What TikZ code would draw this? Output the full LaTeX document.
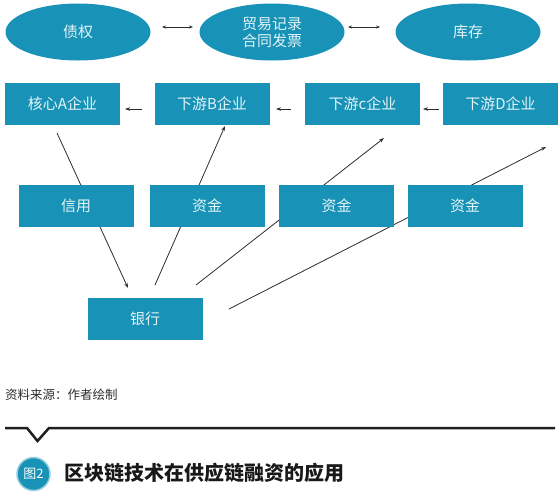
\documentclass[tikz,border=0pt]{standalone}
\usepackage{fontspec}
\setmainfont{Noto Sans CJK SC}
\usetikzlibrary{arrows.meta,shapes.geometric}
\definecolor{teal1}{RGB}{24,146,182}
\definecolor{txt}{RGB}{226,244,248}
\definecolor{ln}{RGB}{45,45,45}
\pgfdeclarelayer{bg}
\pgfsetlayers{bg,main}
\begin{document}
\begin{tikzpicture}[x=1pt,y=-1pt,
  ell/.style={ellipse,fill=teal1,text=txt,minimum width=145pt,minimum height=57pt,inner sep=0pt,font=\fontsize{15pt}{17pt}\selectfont,align=center},
  box/.style={rectangle,fill=teal1,text=txt,minimum width=115pt,minimum height=42pt,inner sep=0pt,font=\fontsize{15pt}{17pt}\selectfont},
  con/.style={draw=ln,line width=0.8pt,-{Stealth[length=5pt,width=3.5pt]}},
  dbl/.style={draw=ln,line width=0.8pt,{Stealth[length=4pt,width=3pt]}-{Stealth[length=4pt,width=3pt]}}]
\useasboundingbox (0,0) rectangle (560,493);
% ellipses
\node[ell] (zq) at (78,32) {债权};
\node[ell] (my) at (272,32) {贸易记录\\合同发票};
\node[ell] (kc) at (468,32) {库存};
\coordinate (d1a) at (162,27); \coordinate (d1b) at (193,27);
\coordinate (d2a) at (348,27); \coordinate (d2b) at (380,27);
\draw[dbl] (d1a) -- (d1b);
\draw[dbl] (d2a) -- (d2b);
% row 2
\node[box] (A) at (62.5,104) {核心A企业};
\node[box] (B) at (212,104) {下游B企业};
\node[box] (C) at (362.5,104) {下游c企业};
\node[box] (D) at (500.5,104) {下游D企业};
\coordinate (l1a) at (142,109); \coordinate (l1b) at (125,109);
\coordinate (l2a) at (291,109); \coordinate (l2b) at (276,109);
\coordinate (l3a) at (439,109); \coordinate (l3b) at (423,109);
\draw[con] (l1a) -- (l1b);
\draw[con] (l2a) -- (l2b);
\draw[con] (l3a) -- (l3b);
% row 3
\node[box] (xy) at (76,206) {信用};
\node[box] (zj1) at (207,206) {资金};
\node[box] (zj2) at (336.5,206) {资金};
\node[box] (zj3) at (465,206) {资金};
\node[box] (yh) at (145,319) {银行};
% long connectors (behind boxes)
\coordinate (s1) at (57,133); \coordinate (e1) at (128,288);
\coordinate (s2) at (155,285); \coordinate (e2) at (225,126);
\coordinate (s3) at (196,285); \coordinate (e3) at (384,138);
\coordinate (s4) at (229,309); \coordinate (e4) at (546,147);
\begin{pgfonlayer}{bg}
\draw[con] (s1) -- (e1);
\draw[con] (s2) -- (e2);
\draw[con] (s3) -- (e3);
\draw[con] (s4) -- (e4);
\end{pgfonlayer}
% footer
\node[anchor=west,text=ln,font=\fontsize{12.5pt}{14pt}\selectfont,inner sep=0pt] (src) at (5,395) {资料来源：作者绘制};
\draw[draw=black!88,line width=2.5pt,line join=miter] (5,428) -- (27,428) -- (37.5,441) -- (49,428) -- (555,428);
\node[circle,fill=teal1,draw=teal1!45,line width=1.5pt,minimum size=33pt,inner sep=0pt,text=white,font=\fontsize{13pt}{14pt}\selectfont] (fig) at (33.5,474) {图2};
\node[anchor=west,inner sep=0pt,text=black!90,font=\fontsize{20pt}{22pt}\selectfont\bfseries] (title) at (64,473) {区块链技术在供应链融资的应用};
\end{tikzpicture}
\end{document}
